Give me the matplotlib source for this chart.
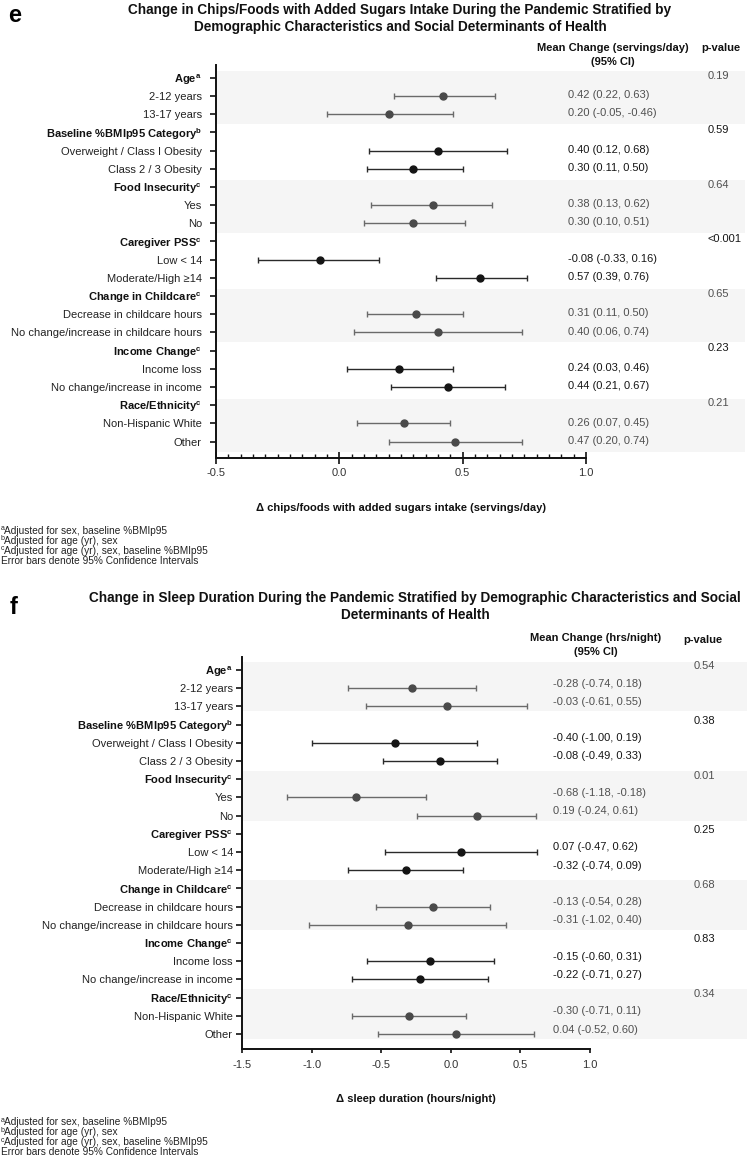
import matplotlib.pyplot as plt
from matplotlib.ticker import MultipleLocator
from matplotlib.transforms import blended_transform_factory

plt.rcParams['font.family'] = ['Liberation Sans', 'DejaVu Sans']
plt.rcParams['mathtext.fontset'] = 'custom'
plt.rcParams['mathtext.rm'] = 'Liberation Sans'
plt.rcParams['mathtext.bf'] = 'Liberation Sans:bold'
plt.rcParams['mathtext.it'] = 'Liberation Sans:italic'

W, H = 750, 1158

groups = ["Age", "Baseline %BMIp95 Category", "Food Insecurity", "Caregiver PSS",
          "Change in Childcare", "Income Change", "Race/Ethnicity"]
group_notes = ["a", "b", "c", "c", "c", "c", "c"]
subgroups = [["2-12 years", "13-17 years"],
             ["Overweight / Class I Obesity", "Class 2 / 3 Obesity"],
             ["Yes", "No"],
             ["Low < 14", "Moderate/High ≥14"],
             ["Decrease in childcare hours", "No change/increase in childcare hours"],
             ["Income loss", "No change/increase in income"],
             ["Non-Hispanic White", "Other"]]

# panel e: chips / foods with added sugars (servings/day)
chips_mean = [0.42, 0.20, 0.40, 0.30, 0.38, 0.30, -0.08, 0.57, 0.31, 0.40, 0.24, 0.44, 0.26, 0.47]
chips_low = [0.22, -0.05, 0.12, 0.11, 0.13, 0.10, -0.33, 0.39, 0.11, 0.06, 0.03, 0.21, 0.07, 0.20]
chips_high = [0.63, 0.46, 0.68, 0.50, 0.62, 0.51, 0.16, 0.76, 0.50, 0.74, 0.46, 0.67, 0.45, 0.74]
chips_ci_text = ["0.42 (0.22, 0.63)", "0.20 (-0.05, -0.46)", "0.40 (0.12, 0.68)", "0.30 (0.11, 0.50)",
                 "0.38 (0.13, 0.62)", "0.30 (0.10, 0.51)", "-0.08 (-0.33, 0.16)", "0.57 (0.39, 0.76)",
                 "0.31 (0.11, 0.50)", "0.40 (0.06, 0.74)", "0.24 (0.03, 0.46)", "0.44 (0.21, 0.67)",
                 "0.26 (0.07, 0.45)", "0.47 (0.20, 0.74)"]
chips_p = ["0.19", "0.59", "0.64", "<0.001", "0.65", "0.23", "0.21"]

# panel f: sleep duration (hrs/night)
sleep_mean = [-0.28, -0.03, -0.40, -0.08, -0.68, 0.19, 0.07, -0.32, -0.13, -0.31, -0.15, -0.22, -0.30, 0.04]
sleep_low = [-0.74, -0.61, -1.00, -0.49, -1.18, -0.24, -0.47, -0.74, -0.54, -1.02, -0.60, -0.71, -0.71, -0.52]
sleep_high = [0.18, 0.55, 0.19, 0.33, -0.18, 0.61, 0.62, 0.09, 0.28, 0.40, 0.31, 0.27, 0.11, 0.60]
sleep_p = ["0.54", "0.38", "0.01", "0.25", "0.68", "0.83", "0.34"]

footnote_marks = ["a", "b", "c", ""]
footnotes = ["Adjusted for sex, baseline %BMIp95",
             "Adjusted for age (yr), sex",
             "Adjusted for age (yr), sex, baseline %BMIp95",
             "Error bars denote 95% Confidence Intervals"]

BAND = '#f5f5f5'
GRAY = {'marker': '#4a4a4a', 'line': '#6a6a6a', 'text': '#505050'}
DARK = {'marker': '#151515', 'line': '#2a2a2a', 'text': '#151515'}


def fx(px):
    return px / W


def fy(px):
    return 1 - px / H


def draw_panel(fig, box, xlim, xrange_, mean, low, high, ci_text, pvals, opts):
    left, top, right, bottom = box
    ax = fig.add_axes([fx(left), fy(bottom), fx(right - left), (bottom - top) / H])
    ax.set_xlim(*xlim)
    ax.set_ylim(*opts['ylim'])

    yticks, ylabels, is_head = [], [], []
    r = 0
    k = 0
    for gi, g in enumerate(groups):
        style = GRAY if gi % 2 == 0 else DARK
        head = r
        yticks.append(r)
        ylabels.append(g + "$^{\\mathbf{" + group_notes[gi] + "}}$")
        is_head.append(True)
        r += 1
        for s in subgroups[gi]:
            yticks.append(r)
            ylabels.append(s)
            is_head.append(False)
            ax.errorbar([mean[k]], [r], xerr=[[mean[k] - low[k]], [high[k] - mean[k]]],
                        fmt='o', ms=5, color=style['marker'], ecolor=style['line'],
                        elinewidth=1.0, capsize=2.3, capthick=1.0, zorder=3)
            ax.text(opts['ci_x'], r + opts['ci_dy'], ci_text[k], ha='left', va='center',
                    fontsize=8, color=style['text'])
            k += 1
            r += 1
        if gi % 2 == 0:
            ax.axhspan(head + opts['band'][0], r - 1 + opts['band'][1], color=BAND, lw=0, zorder=0)
        ax.text(opts['p_x'], head + opts['p_dy'], pvals[gi], ha='left', va='center',
                fontsize=8, color=style['text'])

    ax.set_yticks(yticks)
    ax.set_yticklabels(ylabels, fontsize=8, color='#222222')
    for lab, h in zip(ax.get_yticklabels(), is_head):
        if h:
            lab.set_fontweight('bold')
            lab.set_color('#111111')

    for side in ['top', 'right']:
        ax.spines[side].set_visible(False)
    for side in ['left', 'bottom']:
        ax.spines[side].set_linewidth(1.4)
        ax.spines[side].set_color('#111111')
    ax.spines['bottom'].set_bounds(*xrange_)
    ax.set_xticks(opts['xticks'])
    ax.set_xticklabels(["%.1f" % t for t in opts['xticks']], fontsize=8, color='#333333')
    ax.tick_params(axis='y', length=4.3, width=1.2, pad=opts['ypad'], color='#111111')
    ax.tick_params(axis='x', which='major', direction=opts['xdir'], length=opts['xlen'],
                   width=1.2, pad=opts['xpad'], color='#111111')
    if opts.get('minor'):
        ax.xaxis.set_minor_locator(MultipleLocator(opts['minor']))
        ax.tick_params(axis='x', which='minor', direction='in', length=3, width=1.0, color='#111111')
        ax.set_xticks([t for t in ax.get_xticks(minor=True) if xrange_[0] <= t <= xrange_[1] + 1e-9], minor=True)

    # column headers
    ax.text(opts['hdr_x'], opts['hdr_y'][0], opts['hdr'], ha='center', va='center',
            fontsize=8, fontweight='bold', color='#111111')
    ax.text(opts['hdr_x'], opts['hdr_y'][1], "(95% CI)", ha='center', va='center',
            fontsize=8, fontweight='bold', color='#111111')
    ax.text(opts['phdr_x'], opts['phdr_y'], "p-value", ha='center', va='center',
            fontsize=8, fontweight='bold', color='#111111')

    # x label, centred on the drawn axis range
    tr = blended_transform_factory(ax.transData, fig.transFigure)
    ax.text(sum(xrange_) / 2, fy(bottom + 50), opts['xlabel'], transform=tr, ha='center',
            va='center', fontsize=8, fontweight='bold', color='#111111')

    # footnotes, superscript letter drawn as its own small text
    for i, line in enumerate(footnotes):
        base = bottom + 76 + i * 10
        if footnote_marks[i]:
            fig.text(0.0005, fy(base - 3.5), footnote_marks[i], ha='left', va='baseline',
                     fontsize=5, color='#222222')
            fig.text(fx(4), fy(base), line, ha='left', va='baseline', fontsize=7.3, color='#222222')
        else:
            fig.text(fx(1), fy(base), line, ha='left', va='baseline', fontsize=7.3, color='#222222')
    return ax


fig = plt.figure(figsize=(W / 100, H / 100), dpi=100)

# panel e
fig.text(fx(8), fy(15), "e", fontsize=17, fontweight='bold', ha='left', va='center')
fig.text(fx(400), fy(10), "Change in Chips/Foods with Added Sugars Intake During the Pandemic Stratified by",
         fontsize=9.8, fontweight='bold', ha='center', va='center', color='#111111')
fig.text(fx(400), fy(27), "Demographic Characteristics and Social Determinants of Health",
         fontsize=9.8, fontweight='bold', ha='center', va='center', color='#111111')
draw_panel(fig, (216, 65, 745, 458), (-0.5, 1.644), (-0.5, 1.0),
           chips_mean, chips_low, chips_high, chips_ci_text, chips_p,
           {'ylim': (20.9, -0.7), 'band': (-0.37, 0.55), 'ci_x': 0.927, 'ci_dy': -0.05,
            'p_x': 1.494, 'p_dy': -0.12, 'xticks': [-0.5, 0.0, 0.5, 1.0], 'minor': 0.05,
            'xdir': 'inout', 'xlen': 8, 'xpad': 3.5, 'ypad': 5.8,
            'hdr': "Mean Change (servings/day)", 'hdr_x': 1.109, 'hdr_y': (-1.63, -0.86),
            'phdr_x': 1.547, 'phdr_y': -1.63,
            'xlabel': "Δ chips/foods with added sugars intake (servings/day)"})

# panel f
sleep_ci_text = ["%.2f (%.2f, %.2f)" % (m, l, h) for m, l, h in zip(sleep_mean, sleep_low, sleep_high)]
fig.text(fx(10), fy(607), "f", fontsize=17, fontweight='bold', ha='left', va='center')
fig.text(fx(415), fy(598), "Change in Sleep Duration During the Pandemic Stratified by Demographic Characteristics and Social",
         fontsize=9.8, fontweight='bold', ha='center', va='center', color='#111111')
fig.text(fx(415), fy(615), "Determinants of Health",
         fontsize=9.8, fontweight='bold', ha='center', va='center', color='#111111')
draw_panel(fig, (242, 657, 747, 1049), (-1.5, 2.128), (-1.5, 1.0),
           sleep_mean, sleep_low, sleep_high, sleep_ci_text, sleep_p,
           {'ylim': (20.82, -0.71), 'band': (-0.45, 0.28), 'ci_x': 0.734, 'ci_dy': -0.25,
            'p_x': 1.747, 'p_dy': -0.2, 'xticks': [-1.5, -1.0, -0.5, 0.0, 0.5, 1.0],
            'xdir': 'out', 'xlen': 3, 'xpad': 5, 'ypad': 2.2,
            'hdr': "Mean Change (hrs/night)", 'hdr_x': 1.04, 'hdr_y': (-1.76, -0.99),
            'phdr_x': 1.812, 'phdr_y': -1.65,
            'xlabel': "Δ sleep duration (hours/night)"})

fig.savefig('out.png', dpi=100)
